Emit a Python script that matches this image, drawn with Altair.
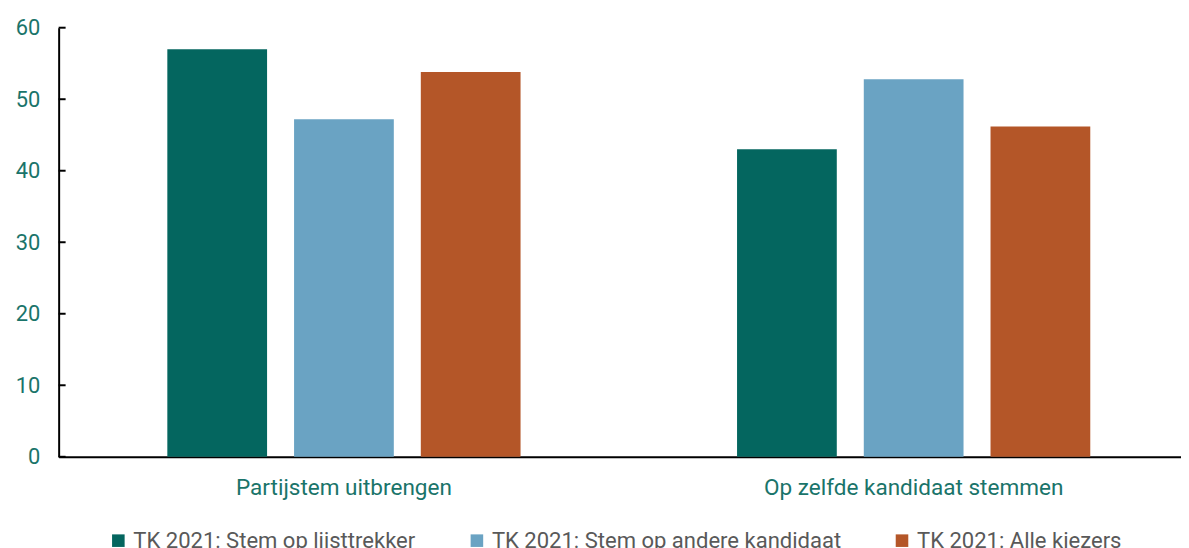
import altair as alt
import pandas as pd

categories = ["Partijstem uitbrengen", "Op zelfde kandidaat stemmen"]
series = ["TK 2021: Stem op lijsttrekker", "TK 2021: Stem op andere kandidaat", "TK 2021: Alle kiezers"]
lijsttrekker = [57.0, 43.0]
andere_kandidaat = [47.2, 52.8]
alle_kiezers = [53.8, 46.2]
colors = ["#04665f", "#6aa3c3", "#b45628"]
y_ticks = [0, 10, 20, 30, 40, 50, 60]

rows = []
for s, vals in zip(series, [lijsttrekker, andere_kandidaat, alle_kiezers]):
    for c, v in zip(categories, vals):
        rows.append({"categorie": c, "reeks": s, "waarde": v})
df = pd.DataFrame(rows)
ticks_df = pd.DataFrame({"t": y_ticks})

FONT = "Roboto"
TEAL = "#1a746a"

y_scale = alt.Scale(domain=[0, 60], nice=False)
y_axis = alt.Axis(values=y_ticks, ticks=False, grid=False,
                  domainColor="#000000", domainWidth=2,
                  labelColor=TEAL, labelFontSize=22, labelFont=FONT,
                  labelPadding=19)

bars = alt.Chart(df).mark_bar().encode(
    x=alt.X("categorie:N", sort=categories, title=None,
            scale=alt.Scale(paddingInner=0.38, paddingOuter=0.175, align=0.545),
            axis=alt.Axis(labelAngle=0, ticks=False, domainColor="#000000",
                          domainWidth=2, labelColor=TEAL, labelFontSize=22.7,
                          labelFont=FONT, labelPadding=20, labelLimit=600)),
    xOffset=alt.XOffset("reeks:N", sort=series,
                        scale=alt.Scale(paddingInner=0.213, paddingOuter=0)),
    y=alt.Y("waarde:Q", scale=y_scale, title=None, axis=y_axis),
    color=alt.Color("reeks:N", sort=series,
                    scale=alt.Scale(domain=series, range=colors),
                    legend=alt.Legend(title=None, orient="none", direction="horizontal",
                                      legendX=49, legendY=505,
                                      symbolType="square", symbolSize=160,
                                      symbolStrokeWidth=0,
                                      labelFontSize=22.2, labelFont=FONT,
                                      labelColor="#595959", columnPadding=50,
                                      labelOffset=4, labelLimit=600)),
)

tick_marks = alt.Chart(ticks_df).mark_rule(color="#000000", strokeWidth=2).encode(
    y=alt.Y("t:Q", scale=y_scale, axis=y_axis),
    x=alt.value(0),
    x2=alt.value(7),
)

chart = alt.layer(bars, tick_marks).properties(
    width=1130, height=432,
    background="#ffffff",
    autosize=alt.AutoSizeParams(type="none"),
    padding={"left": 51, "top": 18, "right": 0, "bottom": 90},
).configure_view(stroke=None).configure_axis(grid=False)

chart.save("out.html", embed_options={"renderer": "svg", "actions": False})
